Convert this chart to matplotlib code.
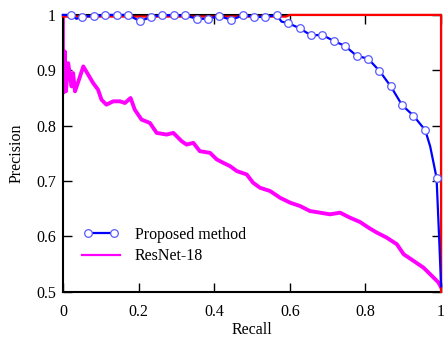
import matplotlib.pyplot as plt
from matplotlib.legend_handler import HandlerLine2D

plt.rcParams['font.family'] = ['Liberation Serif', 'DejaVu Serif']
plt.rcParams['font.size'] = 11.5

# Proposed method (blue, open circle markers)
prop_recall = [0.000, 0.021, 0.036, 0.051, 0.081, 0.112, 0.142, 0.172, 0.203, 0.233,
               0.263, 0.293, 0.324, 0.354, 0.384, 0.414, 0.445, 0.475, 0.505, 0.535,
               0.565, 0.578, 0.596, 0.626, 0.656, 0.686, 0.716, 0.746, 0.777, 0.807,
               0.837, 0.867, 0.897, 0.927, 0.958, 0.971, 0.980, 0.988, 0.995, 1.000]
prop_prec = [1.000, 1.000, 0.993, 0.997, 0.998, 1.000, 1.000, 1.000, 0.989, 0.996,
             1.000, 0.999, 0.999, 0.993, 0.993, 0.998, 0.991, 0.999, 0.997, 0.996,
             1.000, 0.988, 0.985, 0.976, 0.963, 0.964, 0.953, 0.944, 0.926, 0.921,
             0.899, 0.871, 0.837, 0.818, 0.792, 0.763, 0.733, 0.706, 0.595, 0.510]
prop_marked = [False, True, False, True, True, True, True, True, True, True,
               True, True, True, True, True, True, True, True, True, True,
               True, False, True, True, True, True, True, True, True, True,
               True, True, True, True, True, False, False, True, False, False]

# ResNet-18 (magenta)
res_recall = [0.000, 0.000, 0.002, 0.005, 0.008, 0.014, 0.023, 0.027, 0.032, 0.041,
              0.054, 0.067, 0.080, 0.093, 0.102, 0.115, 0.133, 0.151, 0.164, 0.179,
              0.190, 0.208, 0.230, 0.248, 0.274, 0.292, 0.314, 0.327, 0.345, 0.362,
              0.389, 0.407, 0.424, 0.442, 0.460, 0.486, 0.503, 0.521, 0.548, 0.574,
              0.601, 0.627, 0.653, 0.680, 0.706, 0.733, 0.759, 0.786, 0.808, 0.830,
              0.856, 0.883, 0.901, 0.927, 0.953, 0.971, 0.993, 1.000]
res_prec = [1.000, 0.900, 0.860, 0.934, 0.862, 0.913, 0.871, 0.895, 0.862, 0.880,
            0.907, 0.892, 0.877, 0.865, 0.847, 0.838, 0.844, 0.844, 0.841, 0.850,
            0.829, 0.811, 0.805, 0.787, 0.784, 0.787, 0.772, 0.766, 0.769, 0.754,
            0.751, 0.739, 0.733, 0.727, 0.718, 0.712, 0.697, 0.688, 0.682, 0.670,
            0.661, 0.655, 0.646, 0.643, 0.640, 0.643, 0.634, 0.626, 0.616, 0.607,
            0.598, 0.586, 0.568, 0.556, 0.544, 0.532, 0.517, 0.508]

# red reference curve along the top and right edges
ref_recall = [0.0, 0.59, 0.60, 1.0, 1.0]
ref_prec = [0.997, 0.997, 1.0, 1.0, 0.5]

x_ticks = [0, 0.2, 0.4, 0.6, 0.8, 1]
x_labels = ['0', '0.2', '0.4', '0.6', '0.8', '1']
y_ticks = [0.5, 0.6, 0.7, 0.8, 0.9, 1]
y_labels = ['0.5', '0.6', '0.7', '0.8', '0.9', '1']

fig = plt.figure(figsize=(4.46, 3.39), dpi=100)
ax = fig.add_axes([0.141, 0.139, 0.848, 0.817])

ax.plot(ref_recall, ref_prec, color='red', lw=1.6, clip_on=False, zorder=3)
res_line, = ax.plot(res_recall, res_prec, color='#ff00ff', lw=2.8, zorder=2)
line, = ax.plot(prop_recall, prop_prec, color='blue', lw=1.6, marker='o',
                markevery=prop_marked, markersize=5.5, markerfacecolor='white',
                markeredgecolor='#5a5aff', markeredgewidth=0.9,
                clip_on=False, zorder=4)

ax.set_xlim(0, 1)
ax.set_ylim(0.5, 1)
ax.set_xticks(x_ticks, x_labels)
ax.set_yticks(y_ticks, y_labels)
ax.tick_params(direction='in', length=6.5, width=1, top=True, right=True,
               labelsize=11.5)
ax.tick_params(axis='x', pad=9)
ax.tick_params(axis='y', pad=5)
for s in ax.spines.values():
    s.set_linewidth(1.5)

ax.set_xlabel('Recall', fontsize=11.5, labelpad=1)
ax.set_ylabel('Precision', fontsize=11.5, labelpad=8)

res_handle = plt.Line2D([], [], color='#ff00ff', lw=1.6)
ax.legend([line, res_handle], ['Proposed method', 'ResNet-18'], loc='center left',
          bbox_to_anchor=(0.0, 0.168), frameon=False, handlelength=3.0,
          handletextpad=0.6, labelspacing=0.35, numpoints=2,
          handler_map={line: HandlerLine2D(marker_pad=0.7)})

plt.savefig('out.png', dpi=100)
